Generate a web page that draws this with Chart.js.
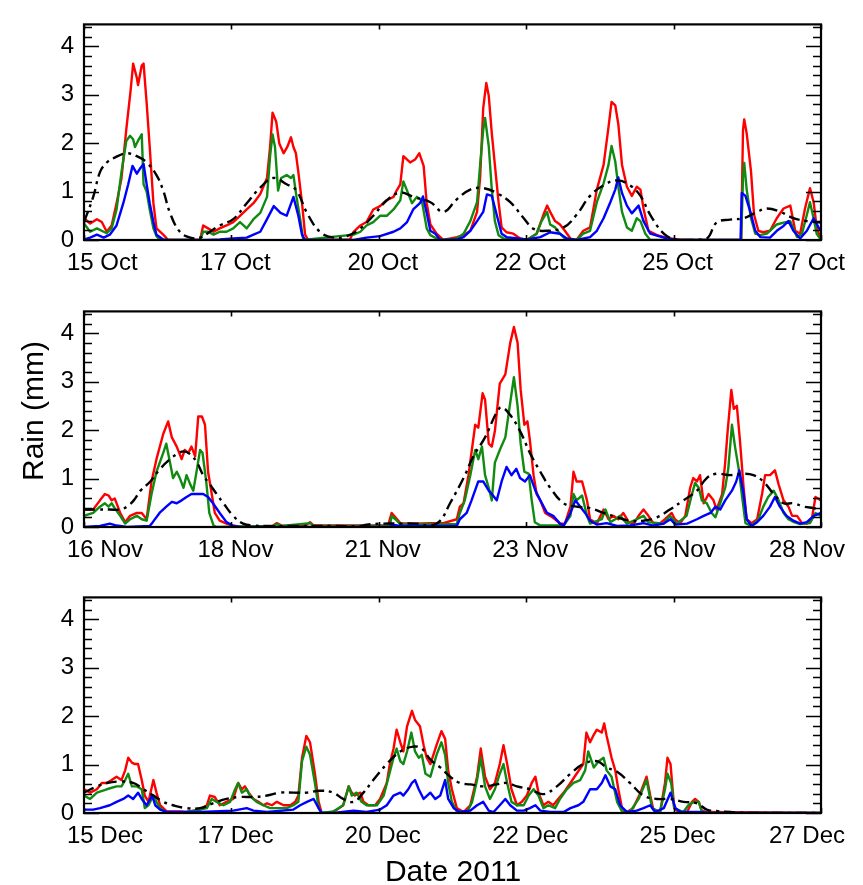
<!DOCTYPE html>
<html>
<head>
<meta charset="utf-8">
<script src="https://cdn.jsdelivr.net/npm/chart.js@4/dist/chart.umd.min.js"></script>
<style>
  body { margin: 0; background: #fff; }
  #wrap { position: relative; width: 863px; height: 885px; font-family: "Liberation Sans", Arial, sans-serif; color: #000; }
  canvas { position: absolute; left: 0; }
  #ylab { position: absolute; left: 33px; top: 411px; transform: translate(-50%, -50%) rotate(-90deg); font-size: 30px; white-space: nowrap; }
  #xlab { position: absolute; left: 453px; top: 871px; transform: translate(-50%, -50%); font-size: 30px; white-space: nowrap; }
</style>
</head>
<body>
<div id="wrap">
  <canvas id="octChart" width="863" height="286" style="top:0px"></canvas>
  <canvas id="novChart" width="863" height="286" style="top:287px"></canvas>
  <canvas id="decChart" width="863" height="286" style="top:573px"></canvas>
  <div id="ylab">Rain (mm)</div>
  <div id="xlab">Date 2011</div>
</div>
<script>
'use strict';

// ── Axis ticks ───────────────────────────────────────────────────────────────
const yTicks = [0, 1, 2, 3, 4];
const octTickLabels = ['15 Oct', '17 Oct', '20 Oct', '22 Oct', '25 Oct', '27 Oct'];
const novTickLabels = ['16 Nov', '18 Nov', '21 Nov', '23 Nov', '26 Nov', '28 Nov'];
const decTickLabels = ['15 Dec', '17 Dec', '20 Dec', '22 Dec', '25 Dec', '27 Dec'];

// ── Data: [day of month, rain mm] ────────────────────────────────────────────
const octRed = [[15.0,0.45],[15.1,0.34],[15.21,0.43],[15.29,0.37],[15.37,0.17],[15.45,0.3],[15.53,0.76],[15.61,1.27],[15.69,2.3],[15.76,3.1],[15.8,3.64],[15.86,3.35],[15.88,3.2],[15.94,3.6],[15.97,3.64],[16.02,2.83],[16.07,1.92],[16.13,0.76],[16.18,0.24],[16.29,0.11],[16.37,0],[16.89,0],[16.94,0.3],[17.02,0.24],[17.11,0.17],[17.21,0.24],[17.32,0.3],[17.43,0.37],[17.54,0.5],[17.65,0.63],[17.76,0.76],[17.87,0.95],[17.98,1.28],[18.03,1.92],[18.07,2.63],[18.13,2.44],[18.18,1.99],[18.25,1.79],[18.31,1.92],[18.37,2.12],[18.41,1.92],[18.45,1.79],[18.49,1.4],[18.55,0.76],[18.6,0.11],[18.65,0],[19.33,0.01],[19.39,0.17],[19.5,0.3],[19.6,0.37],[19.71,0.63],[19.82,0.7],[19.93,0.82],[20.04,0.89],[20.09,1.02],[20.15,1.15],[20.2,1.73],[20.31,1.6],[20.39,1.66],[20.46,1.79],[20.53,1.53],[20.58,0.76],[20.64,0.32],[20.74,0.13],[20.85,0],[21.07,0.06],[21.18,0.1],[21.29,0.19],[21.4,0.58],[21.45,1.29],[21.5,2.72],[21.55,3.24],[21.59,2.98],[21.64,2.2],[21.69,1.55],[21.75,0.78],[21.8,0.26],[21.88,0.16],[21.99,0.13],[22.1,0.03],[22.21,0],[22.37,0.13],[22.48,0.52],[22.54,0.71],[22.59,0.58],[22.67,0.39],[22.75,0.32],[22.83,0.19],[22.92,0.03],[23.02,0],[23.13,0.19],[23.24,0.26],[23.35,1.04],[23.46,1.55],[23.54,2.33],[23.59,2.85],[23.65,2.78],[23.7,2.39],[23.76,1.55],[23.84,1.1],[23.92,0.91],[24.0,1.1],[24.06,1.04],[24.11,0.65],[24.19,0.19],[24.33,0.1],[24.54,0.03],[24.76,0],[25.7,0],[25.73,2.27],[25.75,2.49],[25.79,2.2],[25.86,1.42],[25.91,0.52],[25.98,0.19],[26.06,0.16],[26.17,0.19],[26.28,0.45],[26.39,0.65],[26.5,0.71],[26.58,0.19],[26.66,0.13],[26.74,0.65],[26.82,1.07],[26.88,0.78],[26.93,0.26],[27.0,0]];
const octGreen = [[15.0,0.34],[15.1,0.17],[15.21,0.24],[15.32,0.17],[15.37,0.14],[15.45,0.24],[15.53,0.63],[15.61,1.4],[15.69,2.05],[15.75,2.15],[15.8,2.08],[15.83,1.92],[15.88,2.05],[15.94,2.18],[15.97,1.15],[16.02,1.0],[16.07,0.63],[16.13,0.24],[16.18,0.08],[16.24,0],[16.89,0],[16.94,0.17],[17.02,0.17],[17.11,0.11],[17.21,0.17],[17.32,0.17],[17.43,0.24],[17.54,0.37],[17.65,0.24],[17.76,0.43],[17.87,0.56],[17.98,0.89],[18.03,1.73],[18.07,2.18],[18.11,1.92],[18.16,1.02],[18.21,1.28],[18.3,1.34],[18.37,1.28],[18.41,1.34],[18.46,0.89],[18.52,0.43],[18.57,0],[19.39,0.11],[19.5,0.17],[19.6,0.3],[19.71,0.37],[19.82,0.5],[19.93,0.5],[20.04,0.63],[20.15,0.82],[20.2,1.21],[20.26,1.02],[20.34,0.76],[20.42,0.89],[20.5,0.82],[20.58,0.24],[20.64,0.1],[20.74,0.03],[20.85,0],[21.07,0.03],[21.18,0.13],[21.29,0.39],[21.4,0.78],[21.45,1.55],[21.5,2.27],[21.53,2.52],[21.59,1.94],[21.64,1.04],[21.69,0.39],[21.75,0.1],[21.83,0.03],[22.21,0],[22.37,0.13],[22.45,0.39],[22.54,0.58],[22.59,0.32],[22.67,0.26],[22.75,0.13],[22.83,0.03],[23.02,0],[23.13,0.13],[23.24,0.19],[23.35,0.78],[23.46,1.17],[23.54,1.55],[23.59,1.94],[23.65,1.62],[23.7,1.1],[23.76,0.58],[23.84,0.26],[23.92,0.19],[24.0,0.45],[24.06,0.39],[24.14,0.13],[24.22,0],[25.7,0],[25.73,1.29],[25.75,1.59],[25.79,1.04],[25.86,0.45],[25.93,0.13],[26.01,0.1],[26.12,0.13],[26.28,0.32],[26.39,0.36],[26.5,0.39],[26.61,0.06],[26.69,0.13],[26.77,0.52],[26.82,0.78],[26.88,0.45],[26.93,0.13],[27.0,0]];
const octBlue = [[15.0,0.01],[15.1,0.05],[15.21,0.11],[15.32,0.05],[15.42,0.11],[15.53,0.3],[15.64,0.76],[15.72,1.15],[15.79,1.53],[15.86,1.37],[15.91,1.47],[15.97,1.57],[16.02,1.15],[16.07,0.76],[16.13,0.37],[16.18,0.11],[16.29,0.01],[16.4,0],[17.0,0],[17.21,0.01],[17.43,0.03],[17.65,0.05],[17.76,0.11],[17.87,0.17],[17.98,0.43],[18.09,0.7],[18.2,0.56],[18.3,0.5],[18.41,0.89],[18.49,0.5],[18.55,0.11],[18.6,0],[19.39,0],[19.6,0.05],[19.82,0.08],[20.04,0.17],[20.15,0.24],[20.26,0.37],[20.36,0.63],[20.47,0.76],[20.52,0.9],[20.58,0.56],[20.64,0.19],[20.72,0.13],[20.8,0],[21.07,0.01],[21.18,0.06],[21.29,0.19],[21.4,0.39],[21.5,0.58],[21.56,0.94],[21.64,0.91],[21.72,0.52],[21.8,0.13],[21.88,0.06],[22.21,0.01],[22.43,0.06],[22.59,0.16],[22.75,0.13],[22.86,0.03],[23.02,0],[23.24,0.06],[23.35,0.19],[23.46,0.45],[23.57,0.78],[23.65,1.04],[23.7,1.29],[23.76,0.97],[23.84,0.71],[23.92,0.55],[24.03,0.71],[24.11,0.39],[24.22,0.13],[24.44,0.05],[24.65,0],[25.69,0],[25.71,0.97],[25.77,0.91],[25.85,0.58],[25.93,0.19],[26.01,0.06],[26.17,0.05],[26.28,0.19],[26.39,0.29],[26.47,0.39],[26.55,0.19],[26.66,0.03],[26.77,0.19],[26.88,0.45],[26.96,0.26],[27.0,0.19]];
const octBlack = [[15.0,0.37],[15.15,0.89],[15.26,1.4],[15.37,1.6],[15.5,1.7],[15.69,1.79],[15.86,1.73],[16.02,1.6],[16.18,1.34],[16.29,1.02],[16.4,0.56],[16.56,0.17],[16.73,0.05],[16.89,0.05],[17.05,0.17],[17.21,0.3],[17.43,0.43],[17.65,0.76],[17.87,1.08],[18.08,1.28],[18.3,1.15],[18.46,1.02],[18.63,0.56],[18.84,0.17],[19.06,0.05],[19.28,0.08],[19.5,0.24],[19.71,0.5],[19.93,0.82],[20.15,0.98],[20.36,0.89],[20.64,0.78],[20.85,0.58],[21.07,0.84],[21.29,1.04],[21.5,1.07],[21.72,0.97],[21.94,0.78],[22.16,0.45],[22.32,0.23],[22.54,0.19],[22.81,0.26],[23.02,0.52],[23.24,0.91],[23.46,1.13],[23.68,1.23],[23.89,1.13],[24.06,0.91],[24.22,0.52],[24.44,0.13],[24.65,0],[24.87,0],[25.14,0.03],[25.3,0.36],[25.52,0.42],[25.74,0.45],[25.96,0.58],[26.12,0.65],[26.34,0.58],[26.55,0.45],[26.77,0.39],[27.0,0.36]];

const novRed = [[16.0,0.36],[16.15,0.36],[16.26,0.55],[16.34,0.68],[16.4,0.65],[16.45,0.55],[16.5,0.59],[16.59,0.29],[16.67,0.1],[16.75,0.23],[16.86,0.29],[16.94,0.29],[17.02,0.16],[17.1,0.94],[17.18,1.4],[17.29,1.92],[17.37,2.18],[17.43,1.85],[17.51,1.66],[17.59,1.4],[17.64,1.59],[17.7,1.53],[17.75,1.66],[17.81,1.46],[17.86,2.28],[17.92,2.28],[17.97,2.11],[18.02,1.14],[18.08,0.68],[18.13,0.29],[18.21,0.13],[18.32,0.07],[18.43,0.03],[18.54,0],[19.0,0],[19.08,0.03],[19.14,0.08],[19.22,0.03],[19.6,0.02],[19.68,0.1],[19.74,0.03],[20.95,0.03],[21.01,0.29],[21.07,0.2],[21.15,0.08],[21.36,0.07],[21.64,0.08],[21.85,0.08],[22.07,0.16],[22.12,0.42],[22.18,0.49],[22.26,1.07],[22.37,2.11],[22.42,2.05],[22.49,2.76],[22.53,2.63],[22.59,1.72],[22.64,1.66],[22.69,1.98],[22.77,2.96],[22.86,3.15],[22.94,3.8],[23.0,4.13],[23.06,3.8],[23.11,2.83],[23.17,2.11],[23.22,2.18],[23.26,1.79],[23.32,1.07],[23.37,0.68],[23.43,0.55],[23.51,0.29],[23.59,0.23],[23.67,0.16],[23.75,0.07],[23.83,0.07],[23.92,0.42],[23.97,1.14],[24.02,0.94],[24.11,0.94],[24.19,0.55],[24.24,0.16],[24.35,0.07],[24.46,0.36],[24.54,0.16],[24.62,0.23],[24.7,0.16],[24.78,0.29],[24.87,0.1],[24.95,0.07],[25.03,0.23],[25.11,0.36],[25.19,0.23],[25.27,0.08],[25.38,0.08],[25.46,0.16],[25.57,0.29],[25.62,0.16],[25.71,0.08],[25.79,0.23],[25.87,0.81],[25.92,1.01],[25.98,0.94],[26.03,1.07],[26.09,0.49],[26.17,0.68],[26.25,0.55],[26.3,0.36],[26.39,0.68],[26.44,1.33],[26.48,1.98],[26.54,2.83],[26.58,2.44],[26.63,2.5],[26.68,1.79],[26.74,0.81],[26.79,0.16],[26.87,0.08],[26.96,0.16],[27.04,0.68],[27.09,1.07],[27.17,1.07],[27.25,1.17],[27.31,0.88],[27.39,0.55],[27.47,0.42],[27.53,0.23],[27.61,0.23],[27.69,0.08],[27.77,0.07],[27.85,0.16],[27.91,0.62],[28.0,0.55]];
const novGreen = [[16.0,0.23],[16.15,0.29],[16.26,0.42],[16.34,0.49],[16.4,0.42],[16.45,0.49],[16.5,0.39],[16.59,0.23],[16.67,0.07],[16.75,0.16],[16.86,0.23],[16.94,0.16],[17.02,0.13],[17.1,0.68],[17.18,1.14],[17.29,1.53],[17.34,1.72],[17.4,1.33],[17.45,1.01],[17.51,1.14],[17.56,1.01],[17.62,0.81],[17.67,1.07],[17.73,0.88],[17.78,0.75],[17.84,1.2],[17.89,1.59],[17.93,1.53],[17.99,0.94],[18.04,0.29],[18.11,0.03],[18.16,0],[19.08,0.02],[19.14,0.06],[19.22,0.02],[19.68,0.08],[19.74,0.02],[20.98,0.02],[21.01,0.23],[21.07,0.16],[21.15,0.06],[21.64,0.06],[22.07,0.06],[22.12,0.29],[22.2,0.55],[22.29,1.07],[22.37,1.59],[22.42,1.4],[22.48,1.66],[22.53,1.07],[22.59,0.81],[22.64,0.55],[22.69,1.33],[22.77,1.59],[22.86,1.85],[22.94,2.57],[23.0,3.09],[23.06,2.5],[23.11,1.72],[23.17,1.14],[23.24,1.1],[23.29,0.55],[23.34,0.1],[23.43,0.03],[23.81,0.03],[23.92,0.23],[23.97,0.68],[24.02,0.55],[24.11,0.65],[24.19,0.23],[24.24,0.07],[24.43,0.16],[24.49,0.36],[24.57,0.1],[24.65,0.16],[24.73,0.23],[24.84,0.07],[25.0,0.16],[25.11,0.23],[25.19,0.1],[25.44,0.07],[25.54,0.23],[25.65,0.07],[25.81,0.23],[25.9,0.68],[25.95,0.91],[26.01,0.81],[26.06,0.55],[26.14,0.49],[26.22,0.29],[26.28,0.2],[26.36,0.49],[26.44,0.81],[26.49,1.2],[26.55,2.11],[26.6,1.66],[26.66,1.2],[26.71,0.68],[26.77,0.08],[26.87,0.02],[26.98,0.16],[27.06,0.42],[27.14,0.62],[27.23,0.75],[27.31,0.55],[27.39,0.29],[27.47,0.16],[27.56,0.1],[27.66,0.06],[27.82,0.08],[27.91,0.29],[28.0,0.23]];
const novBlue = [[16.0,0],[16.26,0.02],[16.42,0.07],[16.53,0.03],[16.7,0],[17.07,0.02],[17.12,0.1],[17.23,0.29],[17.34,0.42],[17.43,0.52],[17.51,0.49],[17.59,0.55],[17.67,0.62],[17.75,0.68],[17.84,0.68],[17.94,0.68],[18.02,0.62],[18.1,0.49],[18.21,0.29],[18.32,0.1],[18.43,0.02],[18.54,0],[20.98,0],[21.01,0.05],[21.15,0.02],[22.07,0.02],[22.12,0.16],[22.23,0.29],[22.31,0.55],[22.42,0.94],[22.5,0.94],[22.59,0.75],[22.64,0.68],[22.72,0.55],[22.8,0.94],[22.88,1.24],[22.96,1.07],[23.04,1.2],[23.1,1.01],[23.18,0.94],[23.26,1.07],[23.35,0.75],[23.43,0.55],[23.54,0.29],[23.64,0.23],[23.75,0.07],[23.81,0.03],[23.92,0.29],[24.0,0.55],[24.08,0.42],[24.16,0.29],[24.24,0.13],[24.35,0.05],[24.51,0.08],[24.68,0.02],[24.89,0.03],[25.11,0.08],[25.27,0.03],[25.44,0.07],[25.55,0.16],[25.63,0.05],[25.82,0.07],[25.98,0.16],[26.09,0.23],[26.2,0.29],[26.28,0.42],[26.36,0.36],[26.44,0.55],[26.55,0.75],[26.62,0.94],[26.67,1.17],[26.74,0.68],[26.79,0.16],[26.87,0.02],[26.96,0.1],[27.06,0.23],[27.17,0.42],[27.25,0.62],[27.33,0.42],[27.44,0.23],[27.55,0.13],[27.66,0.07],[27.77,0.1],[27.88,0.23],[28.0,0.29]];
const novBlack = [[16.0,0.36],[16.2,0.36],[16.42,0.36],[16.59,0.36],[16.7,0.42],[16.81,0.55],[16.92,0.75],[17.08,0.94],[17.24,1.2],[17.4,1.4],[17.51,1.5],[17.62,1.56],[17.73,1.5],[17.84,1.33],[17.94,1.07],[18.05,0.88],[18.16,0.68],[18.27,0.49],[18.43,0.23],[18.59,0.07],[18.76,0.03],[19.0,0.02],[19.5,0.02],[20.0,0.02],[20.5,0.02],[20.6,0.05],[20.88,0.07],[21.15,0.07],[21.42,0.07],[21.64,0.03],[21.8,0.13],[21.96,0.49],[22.18,1.01],[22.34,1.46],[22.53,1.85],[22.72,2.37],[22.8,2.47],[22.94,2.31],[23.1,1.98],[23.26,1.53],[23.43,1.14],[23.59,0.81],[23.81,0.49],[24.02,0.42],[24.24,0.39],[24.46,0.29],[24.68,0.2],[24.89,0.13],[25.11,0.13],[25.33,0.2],[25.54,0.36],[25.76,0.55],[25.98,0.75],[26.14,1.01],[26.3,1.1],[26.52,1.07],[26.74,1.1],[26.9,1.07],[27.06,0.94],[27.23,0.68],[27.39,0.49],[27.55,0.49],[27.72,0.42],[27.88,0.39],[28.0,0.36]];

const decRed = [[15.0,0.49],[15.1,0.42],[15.21,0.49],[15.29,0.62],[15.37,0.62],[15.45,0.68],[15.53,0.75],[15.61,0.68],[15.67,0.88],[15.72,1.14],[15.78,1.04],[15.83,1.01],[15.88,1.01],[15.94,0.68],[15.99,0.36],[16.05,0.23],[16.13,0.68],[16.18,0.42],[16.24,0.16],[16.35,0.03],[16.56,0.03],[16.67,0.02],[16.89,0.07],[17.0,0.16],[17.05,0.36],[17.13,0.33],[17.21,0.16],[17.32,0.23],[17.43,0.29],[17.51,0.62],[17.57,0.49],[17.62,0.55],[17.68,0.42],[17.76,0.29],[17.84,0.23],[17.92,0.16],[17.98,0.2],[18.06,0.16],[18.14,0.23],[18.25,0.16],[18.36,0.16],[18.44,0.23],[18.49,0.36],[18.55,1.14],[18.62,1.59],[18.68,1.46],[18.76,0.81],[18.82,0.23],[18.87,0],[19.01,0],[19.12,0.07],[19.22,0.16],[19.31,0.55],[19.36,0.42],[19.41,0.36],[19.5,0.42],[19.55,0.23],[19.63,0.16],[19.74,0.16],[19.82,0.29],[19.93,0.62],[19.98,1.01],[20.04,1.33],[20.09,1.72],[20.15,1.46],[20.2,1.27],[20.26,1.79],[20.34,2.11],[20.39,1.92],[20.47,1.79],[20.53,1.4],[20.58,1.14],[20.64,1.01],[20.74,1.4],[20.82,1.69],[20.88,1.53],[20.93,0.88],[20.99,0.49],[21.07,0.1],[21.18,0.02],[21.29,0.16],[21.4,0.75],[21.46,1.33],[21.53,0.75],[21.61,0.49],[21.69,0.62],[21.77,1.01],[21.83,1.4],[21.89,1.01],[21.96,0.49],[22.05,0.16],[22.13,0.23],[22.21,0.36],[22.29,0.62],[22.35,0.75],[22.4,0.42],[22.48,0.16],[22.56,0.23],[22.64,0.16],[22.72,0.29],[22.81,0.42],[22.92,0.62],[23.02,0.81],[23.13,1.01],[23.18,1.66],[23.24,1.46],[23.29,1.59],[23.35,1.72],[23.43,1.66],[23.47,1.85],[23.51,1.59],[23.59,1.14],[23.65,0.88],[23.7,0.49],[23.76,0.1],[23.84,0.02],[23.94,0.1],[24.06,0.42],[24.16,0.75],[24.22,0.36],[24.27,0.07],[24.38,0.02],[24.46,0.62],[24.5,1.14],[24.55,1.01],[24.61,0.1],[24.68,0.02],[24.82,0.02],[24.9,0.23],[24.95,0.29],[25.01,0.23],[25.06,0.05],[25.14,0.02],[27.0,0]];
const decGreen = [[15.0,0.36],[15.1,0.29],[15.21,0.42],[15.37,0.49],[15.53,0.55],[15.61,0.55],[15.67,0.68],[15.72,0.81],[15.78,0.55],[15.86,0.55],[15.94,0.49],[15.99,0.1],[16.05,0.16],[16.13,0.36],[16.18,0.23],[16.24,0.1],[16.35,0.0],[16.67,0.02],[16.89,0.07],[17.0,0.1],[17.08,0.29],[17.16,0.23],[17.27,0.16],[17.38,0.23],[17.46,0.49],[17.51,0.62],[17.57,0.42],[17.65,0.49],[17.7,0.36],[17.81,0.23],[17.92,0.16],[18.03,0.1],[18.14,0.1],[18.3,0.1],[18.41,0.16],[18.49,0.23],[18.55,1.07],[18.62,1.37],[18.68,1.2],[18.76,0.62],[18.82,0.1],[18.87,0],[19.06,0.03],[19.22,0.16],[19.31,0.55],[19.36,0.36],[19.44,0.42],[19.52,0.23],[19.6,0.16],[19.77,0.16],[19.88,0.36],[19.96,0.75],[20.04,1.14],[20.09,1.33],[20.15,1.07],[20.2,1.01],[20.26,1.27],[20.33,1.66],[20.39,1.27],[20.45,1.14],[20.5,1.2],[20.56,0.81],[20.64,0.75],[20.74,1.2],[20.82,1.46],[20.88,1.2],[20.93,0.62],[20.99,0.23],[21.07,0.03],[21.24,0.02],[21.32,0.23],[21.4,0.68],[21.46,1.14],[21.53,0.55],[21.61,0.29],[21.69,0.49],[21.77,0.81],[21.83,1.01],[21.89,0.62],[21.96,0.23],[22.05,0.16],[22.16,0.16],[22.24,0.36],[22.32,0.49],[22.4,0.36],[22.48,0.1],[22.56,0.16],[22.67,0.1],[22.75,0.29],[22.86,0.49],[22.97,0.62],[23.08,0.68],[23.16,0.88],[23.21,1.27],[23.3,0.94],[23.38,1.07],[23.46,1.14],[23.51,0.88],[23.59,0.75],[23.68,0.23],[23.76,0.03],[23.89,0.02],[24.03,0.29],[24.16,0.68],[24.25,0.1],[24.38,0.02],[24.46,0.49],[24.5,0.81],[24.56,0.62],[24.61,0.1],[24.76,0.02],[24.84,0.16],[24.93,0.23],[25.01,0.23],[25.06,0.02],[25.2,0],[27.0,0]];
const decBlue = [[15.0,0.07],[15.15,0.07],[15.26,0.1],[15.42,0.16],[15.53,0.23],[15.64,0.29],[15.72,0.36],[15.8,0.29],[15.88,0.42],[15.94,0.29],[16.02,0.16],[16.11,0.36],[16.16,0.16],[16.24,0.07],[16.35,0.02],[16.89,0.02],[17.43,0.05],[17.65,0.1],[17.76,0.05],[17.98,0.02],[18.41,0.07],[18.52,0.16],[18.63,0.23],[18.74,0.29],[18.82,0.1],[18.87,0],[19.06,0],[19.39,0.05],[19.6,0.02],[19.82,0.07],[19.93,0.16],[20.04,0.36],[20.15,0.42],[20.2,0.36],[20.28,0.49],[20.34,0.62],[20.39,0.68],[20.45,0.49],[20.53,0.29],[20.64,0.42],[20.72,0.29],[20.8,0.36],[20.88,0.68],[20.93,0.29],[21.02,0.1],[21.12,0.02],[21.29,0.05],[21.4,0.16],[21.5,0.23],[21.59,0.05],[21.67,0.02],[21.77,0.16],[21.86,0.29],[21.94,0.16],[22.05,0.05],[22.16,0.05],[22.26,0.1],[22.35,0.16],[22.43,0.05],[22.59,0.02],[22.81,0.02],[22.92,0.1],[23.05,0.16],[23.13,0.23],[23.24,0.49],[23.35,0.49],[23.43,0.62],[23.49,0.78],[23.57,0.55],[23.65,0.49],[23.73,0.16],[23.84,0.02],[24.0,0.05],[24.11,0.1],[24.22,0.16],[24.3,0.02],[24.44,0.1],[24.55,0.42],[24.63,0.1],[24.71,0.02],[25.0,0.02],[25.2,0],[27.0,0]];
const decBlack = [[15.0,0.42],[15.21,0.55],[15.37,0.62],[15.59,0.65],[15.8,0.62],[15.97,0.49],[16.13,0.36],[16.29,0.23],[16.45,0.16],[16.67,0.1],[16.89,0.1],[17.1,0.2],[17.32,0.29],[17.54,0.33],[17.76,0.33],[17.98,0.36],[18.19,0.42],[18.41,0.42],[18.63,0.42],[18.84,0.46],[19.06,0.42],[19.22,0.29],[19.39,0.23],[19.55,0.42],[19.71,0.68],[19.93,1.01],[20.15,1.27],[20.36,1.37],[20.5,1.33],[20.64,1.1],[20.8,0.94],[20.96,0.75],[21.12,0.62],[21.29,0.59],[21.5,0.55],[21.72,0.59],[21.88,0.62],[22.05,0.55],[22.26,0.49],[22.48,0.39],[22.7,0.55],[22.92,0.81],[23.13,1.01],[23.35,1.07],[23.51,0.94],[23.68,0.85],[23.89,0.62],[24.11,0.36],[24.33,0.29],[24.54,0.29],[24.76,0.23],[24.98,0.2],[25.14,0.07],[25.3,0.04],[25.52,0.02],[25.85,0],[27.0,0]];

// ── Style ─────────────────────────────────────────────────────────────────────
const FONT = '"Liberation Sans", Arial, sans-serif';
const DAYS_SPAN = 12;   // each panel covers 12 days
const TICK_STEP = 2.4;  // 5 equal intervals

// frame, inward tick marks and date labels, placed with the chart's own scales
const frameTicks = {
  id: 'frameTicks',
  afterDatasetsDraw(chart) {
    const { ctx, chartArea: a, scales: { x, y } } = chart;
    ctx.save();
    ctx.strokeStyle = '#000';
    ctx.lineWidth = 1.6;
    ctx.beginPath();
    for (let i = 0; i * 0.2 <= y.max + 1e-6; i++) {
      const py = Math.round(y.getPixelForValue(i * 0.2)) + 0.5;
      const len = i % 5 === 0 ? 15 : 8;
      ctx.moveTo(a.left, py);  ctx.lineTo(a.left + len, py);
      ctx.moveTo(a.right, py); ctx.lineTo(a.right - len, py);
    }
    x.ticks.forEach(t => {
      const px = Math.round(x.getPixelForValue(t.value)) + 0.5;
      ctx.moveTo(px, a.top);    ctx.lineTo(px, a.top + 5);
      ctx.moveTo(px, a.bottom); ctx.lineTo(px, a.bottom - 5);
    });
    ctx.stroke();
    ctx.lineWidth = 2.2;
    ctx.strokeRect(a.left, a.top, a.right - a.left, a.bottom - a.top);

    // date labels: end labels pulled inward like the original plot
    const labels = chart.options.plugins.frameTicks.labels;
    ctx.fillStyle = '#000';
    ctx.font = '24px ' + FONT;
    ctx.textBaseline = 'middle';
    const ly = a.bottom + 23;
    x.ticks.forEach((t, i) => {
      const px = x.getPixelForValue(t.value);
      if (i === 0) { ctx.textAlign = 'left'; ctx.fillText(labels[i], px - 17, ly); }
      else if (i === x.ticks.length - 1) { ctx.textAlign = 'right'; ctx.fillText(labels[i], px + 24, ly); }
      else { ctx.textAlign = 'center'; ctx.fillText(labels[i], px + 4, ly); }
    });
    ctx.restore();
  }
};

function toXY(arr) {
  return arr.map(([x, y]) => ({ x, y }));
}

function makePanel(id, startDay, labels, red, green, blue, black) {
  const tickVals = labels.map((_, i) => startDay + i * TICK_STEP);
  return new Chart(document.getElementById(id), {
    type: 'line',
    data: {
      datasets: [
        // first dataset is drawn on top
        { data: toXY(black), borderColor: '#000', borderWidth: 2.4, borderDash: [11, 5, 3, 5], tension: 0.4 },
        { data: toXY(blue),  borderColor: '#0000ff', borderWidth: 2.4 },
        { data: toXY(green), borderColor: '#118a11', borderWidth: 2.4 },
        { data: toXY(red),   borderColor: '#ff0000', borderWidth: 2.4 },
      ],
    },
    options: {
      responsive: false,
      animation: false,
      layout: { padding: { top: 10, right: 42, left: 0, bottom: 0 } },
      elements: { point: { radius: 0 }, line: { tension: 0, borderJoinStyle: 'round' } },
      scales: {
        x: {
          type: 'linear',
          min: startDay,
          max: startDay + DAYS_SPAN,
          grid: { display: false, drawTicks: false },
          border: { display: false },
          afterBuildTicks: s => { s.ticks = tickVals.map(v => ({ value: v })); },
          afterFit: s => { s.height = 46; },
          ticks: { display: false },
        },
        y: {
          min: 0,
          max: 4.45,
          grid: { display: false, drawTicks: false },
          border: { display: false },
          afterBuildTicks: s => { s.ticks = yTicks.map(v => ({ value: v })); },
          afterFit: s => { s.width = 84; },
          ticks: {
            padding: 10,
            color: '#000',
            font: { family: FONT, size: 24 },
          },
        },
      },
      plugins: {
        legend: { display: false },
        tooltip: { enabled: false },
        frameTicks: { labels },
      },
    },
    plugins: [frameTicks],
  });
}

// ── Bootstrap ─────────────────────────────────────────────────────────────────
makePanel('octChart', 15, octTickLabels, octRed, octGreen, octBlue, octBlack);
makePanel('novChart', 16, novTickLabels, novRed, novGreen, novBlue, novBlack);
makePanel('decChart', 15, decTickLabels, decRed, decGreen, decBlue, decBlack);
</script>
</body>
</html>
